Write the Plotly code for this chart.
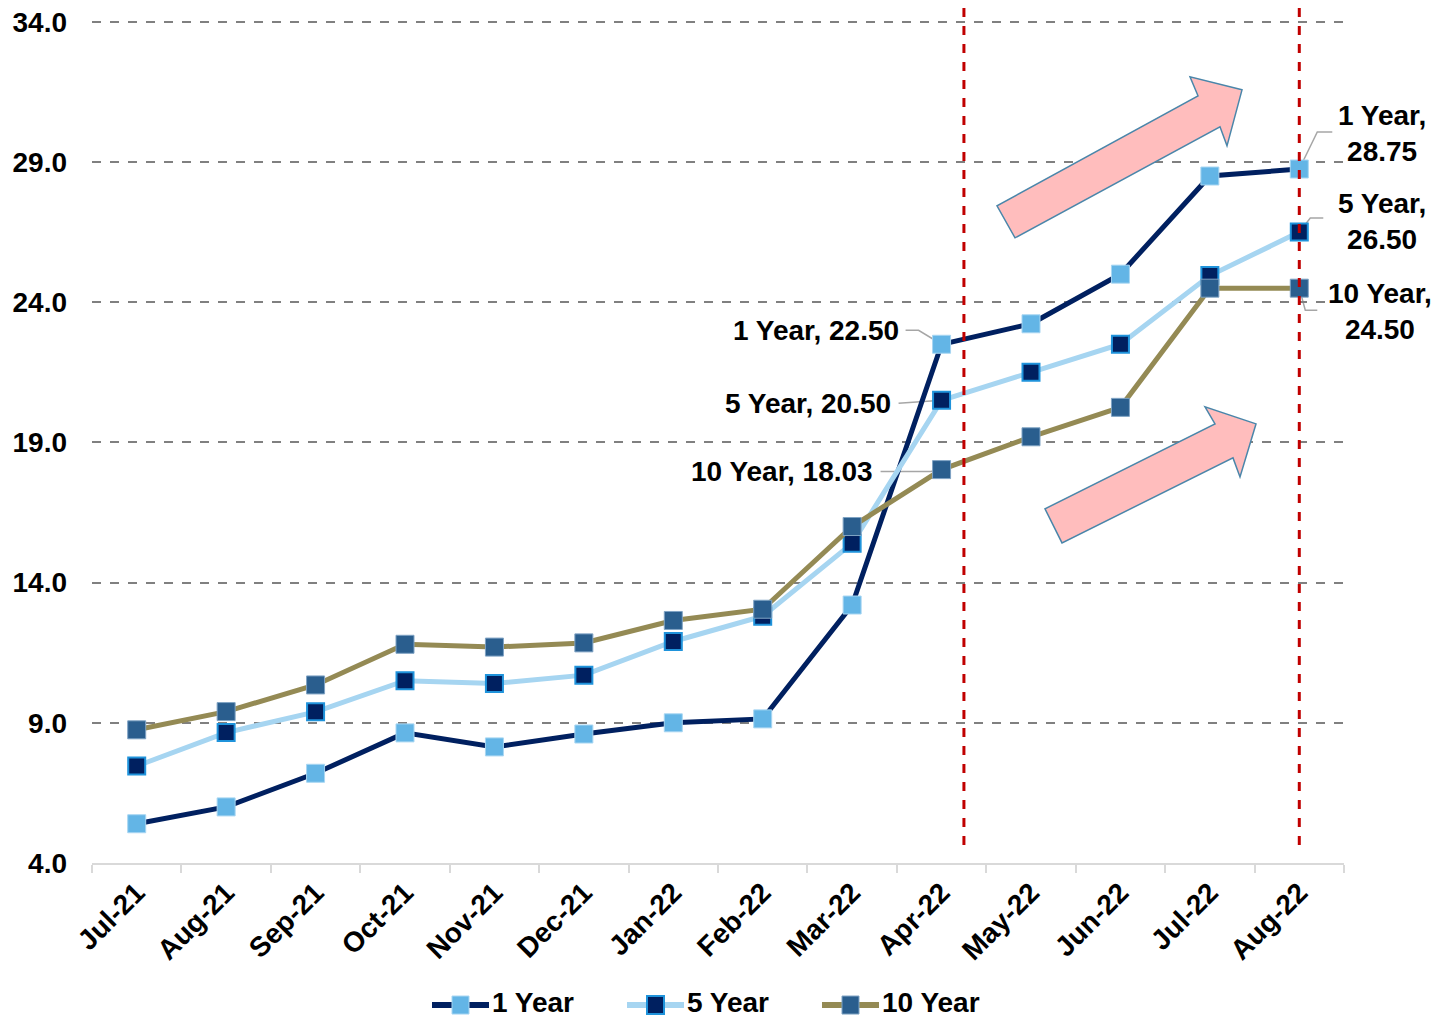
import plotly.graph_objects as go

months = ["Jul-21", "Aug-21", "Sep-21", "Oct-21", "Nov-21", "Dec-21", "Jan-22",
          "Feb-22", "Mar-22", "Apr-22", "May-22", "Jun-22", "Jul-22", "Aug-22"]
one_year = [5.4, 6.0, 7.2, 8.64, 8.14, 8.6, 9.0, 9.14, 13.2, 22.50, 23.23, 25.0, 28.5, 28.75]
five_year = [7.46, 8.65, 9.39, 10.5, 10.4, 10.7, 11.9, 12.8, 15.4, 20.50, 21.5, 22.5, 24.95, 26.50]
ten_year = [8.75, 9.4, 10.35, 11.8, 11.7, 11.85, 12.65, 13.05, 16.0, 18.03, 19.2, 20.25, 24.5, 24.50]
y_ticks = [4.0, 9.0, 14.0, 19.0, 24.0, 29.0, 34.0]
series_names = ["1 Year", "5 Year", "10 Year"]

FONT = "Liberation Sans, Arial, sans-serif"
FS = 28

W, H = 1435, 1019
# plot area (pixels): y=4 at 863, y=34 at 22
Y_MIN, Y_MAX = 4.0, 34.1
PXU = (863 - 22) / 30.0
L, R = 92, 91
T = 22 - (Y_MAX - 34.0) * PXU
B = H - 863
PW, PH = W - L - R, H - T - B


def px2paper(px, py):
    return (px - L) / PW, (T + PH - py) / PH


styles = [
    dict(line="#002060", fill="#63B5E6", edge="#A8D6F2", ew=1, size=18),
    dict(line="#A6D5F1", fill="#002060", edge="#1F93DB", ew=2, size=17),
    dict(line="#948A54", fill="#2A5E8E", edge="#7FA3C4", ew=1, size=18),
]

fig = go.Figure()
for name, vals, st in zip(series_names, [one_year, five_year, ten_year], styles):
    fig.add_trace(go.Scatter(
        x=months, y=vals, name=name, mode="lines+markers",
        line=dict(color=st["line"], width=5),
        marker=dict(symbol="square", size=st["size"], color=st["fill"],
                    line=dict(color=st["edge"], width=st["ew"])),
        showlegend=False,
    ))

shapes = []
annotations = []

# red dashed vertical markers
for xv in [9.25, 13.0]:
    x_p = (xv + 0.5) / len(months)
    shapes.append(dict(type="line", xref="paper", yref="paper",
                       x0=x_p, x1=x_p, y0=px2paper(0, 845)[1], y1=px2paper(0, 5)[1],
                       line=dict(color="#C00000", width=3, dash="dash"), layer="above"))

# block arrows (pixel outlines)
arrows = [
    [(1242, 90), (1190, 77), (1198, 96), (997, 206), (1015, 238), (1220, 127), (1227, 146)],
    [(1256, 424), (1205, 407), (1215, 424), (1045, 509), (1062, 543), (1233, 458), (1240, 477)],
]
for pts in arrows:
    pp = [px2paper(x, y) for x, y in pts]
    path = "M " + " L ".join(f"{a:.5f},{b:.5f}" for a, b in pp) + " Z"
    shapes.append(dict(type="path", xref="paper", yref="paper", path=path,
                       fillcolor="#FFBDBD", line=dict(color="#4A86AA", width=1.5),
                       layer="above"))

# leader lines (pixel offsets from data point, y up)
leaders = [
    (9, one_year[9], [(-36, 14), (-23, 14), (0, 0)]),
    (9, five_year[9], [(-43, -3), (0, 0)]),
    (9, ten_year[9], [(-61, -2), (-11, -2), (0, 0)]),
    (13, one_year[13], [(0, 0), (18, 37), (33, 37)]),
    (13, five_year[13], [(0, 0), (11, 14), (24, 14)]),
    (13, ten_year[13], [(0, 0), (6, -22), (18, -22)]),
]
for xi, yv, pts in leaders:
    path = "M " + " L ".join(f"{a},{b}" for a, b in pts)
    shapes.append(dict(type="path", xref="x", yref="y", xsizemode="pixel", ysizemode="pixel",
                       xanchor=xi, yanchor=yv, path=path,
                       line=dict(color="#A6A6A6", width=1.5), layer="below"))

labels = [
    dict(x=months[9], y=one_year[9], text=f"1 Year, {one_year[9]:.2f}", xanchor="right", xshift=-41, yshift=14),
    dict(x=months[9], y=five_year[9], text=f"5 Year, {five_year[9]:.2f}", xanchor="right", xshift=-49, yshift=-3),
    dict(x=months[9], y=ten_year[9], text=f"10 Year, {ten_year[9]:.2f}", xanchor="right", xshift=-67, yshift=-2),
    dict(x=months[13], y=one_year[13], text=f"1 Year,<br>{one_year[13]:.2f}", xanchor="center", xshift=83, yshift=36),
    dict(x=months[13], y=five_year[13], text=f"5 Year,<br>{five_year[13]:.2f}", xanchor="center", xshift=83, yshift=11),
    dict(x=months[13], y=ten_year[13], text=f"10 Year,<br>{ten_year[13]:.2f}", xanchor="center", xshift=81, yshift=-23),
]
for a in labels:
    a.update(xref="x", yref="y", showarrow=False, yanchor="middle",
             font=dict(family=FONT, size=FS, color="black", weight="bold"))
    annotations.append(a)

# legend (Excel style: long line with square marker in the middle)
LEG_Y = 1005
leg_starts = [432, 627, 822]
for name, st, x0 in zip(series_names, styles, leg_starts):
    xa, ya = px2paper(x0, LEG_Y)
    xb, _ = px2paper(x0 + 57, LEG_Y)
    shapes.append(dict(type="line", xref="paper", yref="paper", x0=xa, x1=xb, y0=ya, y1=ya,
                       line=dict(color=st["line"], width=6)))
    m0x, m0y = px2paper(x0 + 20, LEG_Y + 9)
    m1x, m1y = px2paper(x0 + 37, LEG_Y - 9)
    shapes.append(dict(type="rect", xref="paper", yref="paper", x0=m0x, x1=m1x, y0=m0y, y1=m1y,
                       fillcolor=st["fill"], line=dict(color=st["edge"], width=st["ew"])))
    tx, ty = px2paper(x0 + 59, LEG_Y - 3)
    annotations.append(dict(xref="paper", yref="paper", x=tx, y=ty, text=name, showarrow=False,
                            xanchor="left", yanchor="middle", borderpad=0,
                            font=dict(family=FONT, size=FS, color="black", weight="bold")))

fig.update_layout(
    width=W, height=H,
    margin=dict(l=L, r=R, t=T, b=B, pad=0, autoexpand=False),
    paper_bgcolor="white", plot_bgcolor="white",
    font=dict(family=FONT, size=FS, color="black", weight="bold"),
    shapes=shapes,
    annotations=annotations,
    showlegend=False,
    xaxis=dict(
        type="category", range=[-0.5, len(months) - 0.5],
        showgrid=False, showline=True, linecolor="#D9D9D9", linewidth=2,
        ticks="outside", tickson="boundaries", ticklen=8, tickcolor="#D9D9D9", tickwidth=2,
        tickangle=-45, tickfont=dict(family=FONT, size=FS, color="black", weight="bold"),
        fixedrange=True, automargin=False,
    ),
    yaxis=dict(
        range=[Y_MIN, Y_MAX], tickvals=y_ticks, ticktext=[f"{v:.1f}" for v in y_ticks],
        showgrid=True, gridcolor="#808080", gridwidth=1.5, griddash="dash",
        showline=False, zeroline=False, ticks="", ticklabelstandoff=24,
        tickfont=dict(family=FONT, size=FS, color="black", weight="bold"),
        fixedrange=True, automargin=False,
    ),
)

fig.write_html("out.html")
